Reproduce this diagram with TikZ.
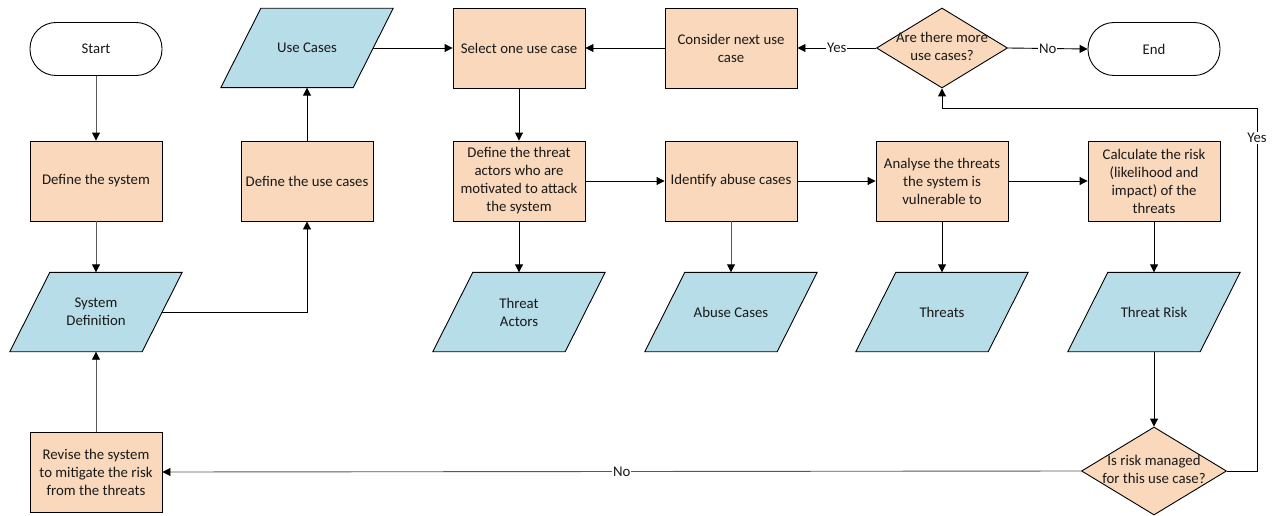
\documentclass[tikz,border=0pt]{standalone}
\usepackage{fontspec}
\setmainfont{Carlito}
\usetikzlibrary{shapes.geometric,arrows.meta,backgrounds}
\definecolor{peach}{RGB}{249,216,188}
\definecolor{lblue}{RGB}{183,221,232}
\newcommand\dlbl[1]{\makebox[0pt]{\smash{\raisebox{-0.25em}{\begin{tabular}{@{}c@{}}#1\end{tabular}}}}}
\newcommand\paral[1]{\filldraw[fill=lblue, draw=black, line width=0.9pt]
  ([xshift=40pt]#1.north west) -- (#1.north east) -- ([xshift=-40pt]#1.south east) -- (#1.south west) -- cycle;}
\begin{document}
\begin{tikzpicture}[x=1pt,y=-1pt,
  every node/.style={font=\fontsize{14.8}{18}\selectfont, align=center, text=black!90},
  proc/.style={draw, fill=peach, minimum width=132pt, minimum height=80pt, inner sep=2pt, line width=0.9pt},
  io/.style={rectangle, minimum width=172pt, minimum height=79pt, inner sep=0pt},
  term/.style={draw, fill=white, rounded corners=26pt, minimum width=132pt, minimum height=53pt, line width=0.9pt},
  dec/.style={draw, fill=peach, diamond, inner sep=0pt, line width=0.9pt},
  conn/.style={draw=black, line width=0.9pt, -{Triangle[length=8pt,width=8pt,color=black]}},
  conng/.style={conn, draw=black!65},
  lbl/.style={fill=white, inner sep=1pt}
]
\useasboundingbox (0,0) rectangle (1273,516);
% nodes
\node[term] (start) at (96,49) {Start};
\node[proc] (defsys) at (96,181) {Define the system};
\node[io] (sysdef) at (96,312) {System\\Definition};
\node[proc] (revise) at (96,472) {Revise the system\\to mitigate the risk\\from the threats};
\node[proc] (defuse) at (307,181) {Define the use cases};
\node[io] (usecases) at (307,48) {Use Cases};
\node[proc] (select) at (519,48) {Select one use case};
\node[proc] (next) at (731,48) {Consider next use\\case};
\node[dec, minimum width=131pt, minimum height=80pt] (more) at (942,48) {\dlbl{Are there more\\use cases?}};
\node[term] (end) at (1154,49) {End};
\node[proc] (actors) at (519,181) {Define the threat\\actors who are\\motivated to attack\\the system};
\node[proc] (abuse) at (731,181) {Identify abuse cases};
\node[proc] (analyse) at (942,181) {Analyse the threats\\the system is\\vulnerable to};
\node[proc] (calc) at (1154,181) {Calculate the risk\\(likelihood and\\impact) of the\\threats};
\node[io] (tact) at (519,312) {Threat\\Actors};
\node[io] (acases) at (731,312) {Abuse Cases};
\node[io] (threats) at (942,312) {Threats};
\node[io] (trisk) at (1154,312) {Threat Risk};
\node[dec, minimum width=145pt, minimum height=88pt] (managed) at (1154,471) {\dlbl{Is risk managed\\for this use case?}};
\coordinate (loopR) at (1257,108);
% parallelogram outlines behind the data nodes
\begin{scope}[on background layer]
\paral{sysdef}
\paral{usecases}
\paral{tact}
\paral{acases}
\paral{threats}
\paral{trisk}
\end{scope}
% connectors
\draw[conng] (start) -- (defsys);
\draw[conng] (defsys) -- (sysdef);
\draw[conng] (revise) -- (sysdef);
\draw[conn] ([xshift=-20pt]sysdef.east) -| (defuse.south);
\draw[conn] (defuse) -- (usecases);
\draw[conn] ([xshift=-20pt]usecases.east) -- (select.west);
\draw[conn] (next) -- (select);
\draw[conn] (more.west) -- node[lbl] (yes1) {Yes} (next.east);
\draw[conn] (more.east) -- node[lbl] (no1) {No} (end.west);
\draw[conn] (select) -- (actors);
\draw[conn] (actors) -- (abuse);
\draw[conn] (abuse) -- (analyse);
\draw[conn] (analyse) -- (calc);
\draw[conn] (actors) -- (tact);
\draw[conng] (abuse) -- (acases);
\draw[conn] (analyse) -- (threats);
\draw[conn] (calc) -- (trisk);
\draw[conn] (trisk) -- (managed);
\draw[conn] (managed.east) -| (loopR) -| (more.south);
\node[lbl] (yes2) at (1257,138) {Yes};
\draw[conng] (managed.west) -- node[lbl] (no2) {No} (revise.east);
\end{tikzpicture}
\end{document}
